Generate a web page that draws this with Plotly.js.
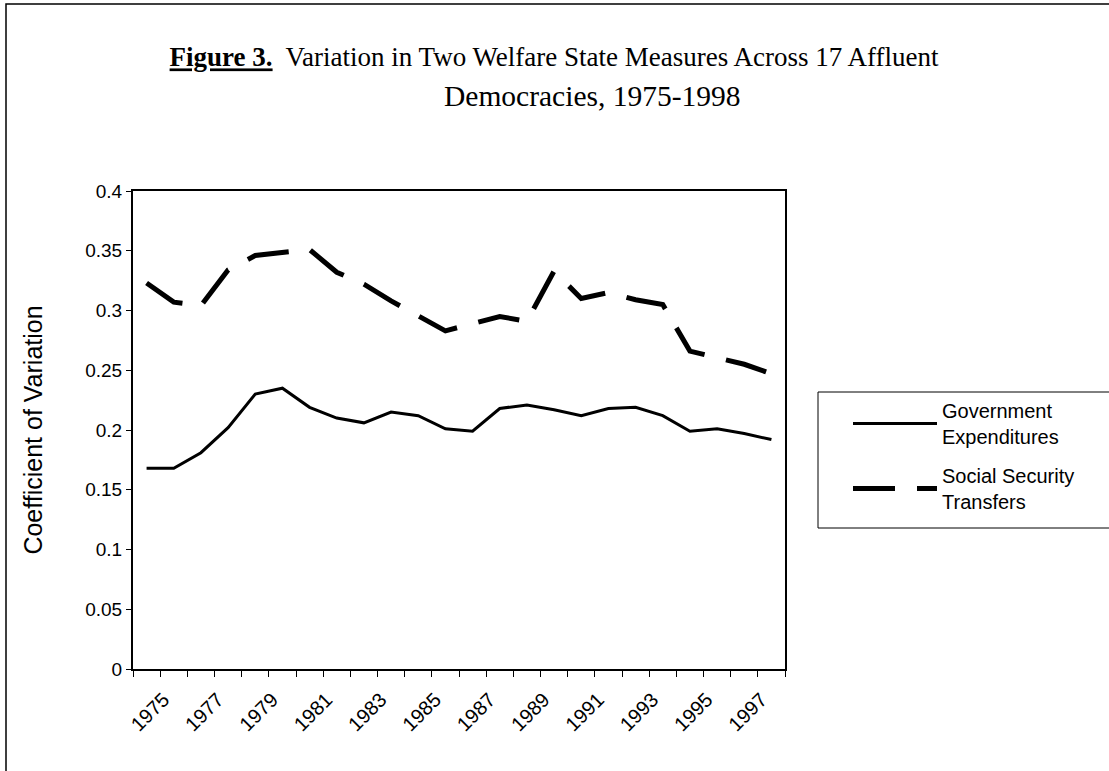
<!DOCTYPE html>
<html>
<head>
<meta charset="utf-8">
<script src="https://cdn.plot.ly/plotly-3.0.1.min.js"></script>
<style>
  html, body { margin: 0; padding: 0; background: #ffffff; }
  #chart { width: 1109px; height: 771px; }
</style>
</head>
<body>
<div id="chart"></div>
<script>
// ---- Data ----
const years = [1975, 1976, 1977, 1978, 1979, 1980, 1981, 1982, 1983, 1984, 1985, 1986,
               1987, 1988, 1989, 1990, 1991, 1992, 1993, 1994, 1995, 1996, 1997, 1998];

const governmentExpenditures = [0.168, 0.168, 0.181, 0.202, 0.230, 0.235, 0.219, 0.210,
                                0.206, 0.215, 0.212, 0.201, 0.199, 0.218, 0.221, 0.217,
                                0.212, 0.218, 0.219, 0.212, 0.199, 0.201, 0.197, 0.192];

const socialSecurityTransfers = [0.323, 0.307, 0.304, 0.334, 0.346, 0.349, 0.351, 0.332,
                                 0.322, 0.308, 0.295, 0.283, 0.289, 0.295, 0.291, 0.333,
                                 0.310, 0.315, 0.309, 0.305, 0.266, 0.261, 0.255, 0.247];

const seriesNames = ['Government<br>Expenditures', 'Social Security<br>Transfers'];

const xTickYears = [1975, 1977, 1979, 1981, 1983, 1985, 1987, 1989, 1991, 1993, 1995, 1997];
const xTickLabels = ['1975', '1977', '1979', '1981', '1983', '1985', '1987', '1989', '1991', '1993', '1995', '1997'];

const yTickValues = [0, 0.05, 0.1, 0.15, 0.2, 0.25, 0.3, 0.35, 0.4];
const yTickLabels = ['0', '0.05', '0.1', '0.15', '0.2', '0.25', '0.3', '0.35', '0.4'];

const titleLine1 = '<b><u>Figure 3.</u></b>  Variation in Two Welfare State Measures Across 17 Affluent';
const titleLine2 = 'Democracies, 1975-1998';
const yAxisTitle = 'Coefficient of Variation';

// ---- Plot ----
const sansFont = 'Liberation Sans, Arial, sans-serif';
const serifFont = 'Liberation Serif, Times New Roman, serif';

const traces = [
  {
    x: years, y: governmentExpenditures, name: seriesNames[0], legendgroup: 'g1',
    type: 'scatter', mode: 'lines',
    line: { color: '#000000', width: 3 }
  },
  {
    x: years, y: socialSecurityTransfers, name: seriesNames[1], legendgroup: 'g2',
    type: 'scatter', mode: 'lines',
    line: { color: '#000000', width: 5, dash: '42px,22px' }
  }
];

const W = 1109, H = 771;
const L = 133, R = 785, T = 191, B = 669;
const px2x = p => (p - L) / (R - L);
const py2y = p => (B - p) / (B - T);

const layout = {
  width: W, height: H,
  margin: { l: L, r: W - R, t: T, b: H - B, pad: 0 },
  paper_bgcolor: '#ffffff',
  plot_bgcolor: '#ffffff',
  font: { family: sansFont, color: '#000000', size: 19 },
  showlegend: true,
  title: {
    text: titleLine1,
    font: { family: serifFont, size: 27, color: '#000000' },
    xref: 'container', x: 554 / W, xanchor: 'center',
    yref: 'container', y: 1 - 57 / H, yanchor: 'middle'
  },
  annotations: [
    {
      text: titleLine2, showarrow: false,
      xref: 'paper', yref: 'paper',
      x: px2x(592), y: py2y(96), xanchor: 'center', yanchor: 'middle',
      font: { family: serifFont, size: 29.5, color: '#000000' }
    }
  ],
  xaxis: {
    type: 'linear',
    range: [years[0] - 0.5, years[years.length - 1] + 0.5],
    tickmode: 'array', tickvals: xTickYears, ticktext: xTickLabels,
    tickangle: -45, ticks: '',
    ticklabelshift: 17, ticklabelstandoff: 9,
    tickfont: { family: sansFont, size: 20, color: '#000000' },
    showgrid: false, zeroline: false,
    showline: true, mirror: true, linecolor: '#000000', linewidth: 2,
    minor: { tickmode: 'linear', tick0: years[0] - 0.5, dtick: 1, ticks: 'outside',
             ticklen: 6, tickwidth: 1, tickcolor: '#000000', showgrid: false },
    fixedrange: true
  },
  yaxis: {
    range: [0, 0.4],
    tickmode: 'array', tickvals: yTickValues, ticktext: yTickLabels,
    ticks: 'outside', ticklen: 5, tickwidth: 1, tickcolor: '#000000',
    tickfont: { family: sansFont, size: 19, color: '#000000' },
    showgrid: false, zeroline: false,
    showline: true, mirror: true, linecolor: '#000000', linewidth: 2,
    title: { text: yAxisTitle, font: { family: sansFont, size: 25, color: '#000000' }, standoff: 35 },
    fixedrange: true
  },
  legend: {
    x: px2x(848), y: py2y(391), xanchor: 'left', yanchor: 'top',
    bgcolor: 'rgba(0,0,0,0)', borderwidth: 0,
    font: { family: sansFont, size: 20, color: '#000000' },
    itemwidth: 84, tracegroupgap: 10
  },
  shapes: [
    // outer frame
    { type: 'rect', xref: 'paper', yref: 'paper',
      x0: px2x(6), x1: px2x(1200), y0: py2y(900), y1: py2y(4),
      line: { color: '#000000', width: 1.5 }, fillcolor: 'rgba(0,0,0,0)' },
    // legend box
    { type: 'rect', xref: 'paper', yref: 'paper',
      x0: px2x(818), x1: px2x(1200), y0: py2y(528), y1: py2y(392),
      line: { color: '#000000', width: 1 }, fillcolor: 'rgba(0,0,0,0)' }
  ]
};

Plotly.newPlot('chart', traces, layout, { displayModeBar: false, staticPlot: true });
</script>
</body>
</html>
